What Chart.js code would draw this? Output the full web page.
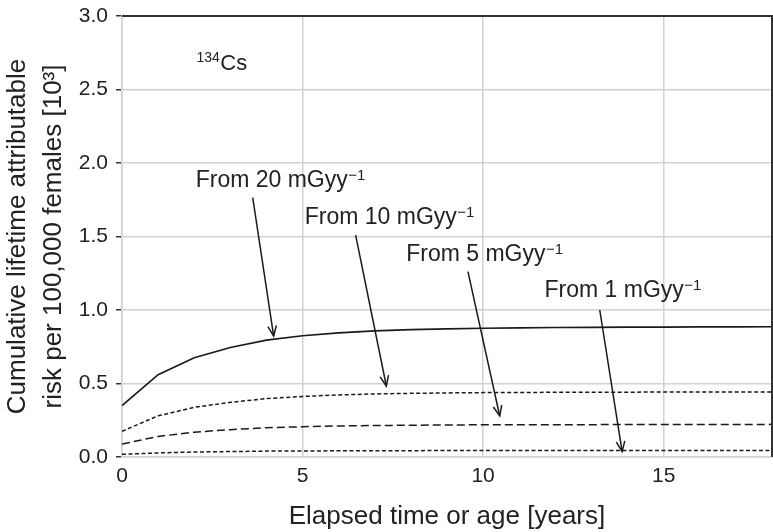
<!DOCTYPE html>
<html>
<head>
<meta charset="utf-8">
<script src="https://cdn.jsdelivr.net/npm/chart.js@4/dist/chart.umd.min.js"></script>
<style>
  html, body { margin: 0; padding: 0; background: #fff; }
  #wrap { width: 773px; height: 532px; }
</style>
</head>
<body>
<div id="wrap"><canvas id="riskChart"></canvas></div>
<script>
// elapsed years and cumulative risk per dose rate
const years = [0, 1, 2, 3, 4, 5, 6, 7, 8, 9, 10, 11, 12, 13, 14, 15, 16, 17, 18];
const risk20 = [0.35, 0.56, 0.675, 0.745, 0.795, 0.825, 0.845, 0.858, 0.866, 0.872, 0.876, 0.879, 0.881, 0.882, 0.883, 0.884, 0.885, 0.885, 0.886];
const risk10 = [0.175, 0.28, 0.338, 0.372, 0.397, 0.412, 0.422, 0.429, 0.433, 0.436, 0.438, 0.439, 0.44, 0.441, 0.441, 0.442, 0.442, 0.443, 0.443];
const risk5 = [0.088, 0.14, 0.169, 0.186, 0.199, 0.206, 0.211, 0.214, 0.216, 0.218, 0.219, 0.22, 0.22, 0.22, 0.221, 0.221, 0.221, 0.221, 0.222];
const risk1 = [0.018, 0.028, 0.034, 0.037, 0.04, 0.041, 0.042, 0.043, 0.043, 0.044, 0.044, 0.044, 0.044, 0.044, 0.044, 0.044, 0.044, 0.044, 0.044];
const seriesNames = ["From 20 mGyy", "From 10 mGyy", "From 5 mGyy", "From 1 mGyy"];

// annotation text anchors and arrows, in data units
const labelAt = [[2.04, 1.835], [5.06, 1.585], [7.87, 1.333], [11.70, 1.086]];
const arrowFrom = [[3.62, 1.764], [6.47, 1.51], [9.58, 1.261], [13.23, 1.0]];
const arrowTo = [[4.20, 0.823], [7.32, 0.483], [10.46, 0.279], [13.85, 0.037]];
const isotopeAt = [2.06, 2.633];

const ink = "#1a1a1a";
const gridColor = "#d2d2d2";
const fontFamily = "'Liberation Sans', Arial, sans-serif";

const toPoints = (vals) => years.map((x, i) => ({ x: x, y: vals[i] }));

function drawSup(ctx, x, y, main, sup, big, small, rise) {
  ctx.font = big + "px " + fontFamily;
  ctx.fillText(main, x, y);
  const w = ctx.measureText(main).width;
  ctx.font = small + "px " + fontFamily;
  ctx.fillText(sup, x + w + 0.5, y - rise);
}

const annotations = {
  id: "annotations",
  afterDatasetsDraw(chart) {
    const { ctx, chartArea: a, scales: { x, y } } = chart;
    ctx.save();

    // dark frame on top and right
    ctx.strokeStyle = "#333";
    ctx.lineWidth = 2;
    ctx.beginPath();
    ctx.moveTo(a.left, a.top);
    ctx.lineTo(a.right, a.top);
    ctx.lineTo(a.right, a.bottom);
    ctx.stroke();

    ctx.fillStyle = "#222";
    ctx.textBaseline = "alphabetic";
    ctx.textAlign = "left";

    // isotope tag: superscript mass number then symbol
    ctx.font = "14px " + fontFamily;
    const ix = x.getPixelForValue(isotopeAt[0]);
    const iy = y.getPixelForValue(isotopeAt[1]);
    ctx.fillText("134", ix, iy - 8);
    const sw = ctx.measureText("134").width;
    ctx.font = "22px " + fontFamily;
    ctx.fillText("Cs", ix + sw + 0.5, iy);

    seriesNames.forEach((name, i) => {
      const lx = x.getPixelForValue(labelAt[i][0]);
      const ly = y.getPixelForValue(labelAt[i][1]);
      drawSup(ctx, lx, ly, name, "\u22121", 23, 15, 7.5);

      const x0 = x.getPixelForValue(arrowFrom[i][0]);
      const y0 = y.getPixelForValue(arrowFrom[i][1]);
      const x1 = x.getPixelForValue(arrowTo[i][0]);
      const y1 = y.getPixelForValue(arrowTo[i][1]);
      ctx.strokeStyle = ink;
      ctx.lineWidth = 1.5;
      ctx.beginPath();
      ctx.moveTo(x0, y0);
      ctx.lineTo(x1, y1);
      ctx.stroke();

      const ang = Math.atan2(y1 - y0, x1 - x0);
      const head = 11;
      const spread = 0.4;
      ctx.beginPath();
      ctx.moveTo(x1 - head * Math.cos(ang - spread), y1 - head * Math.sin(ang - spread));
      ctx.lineTo(x1, y1);
      ctx.lineTo(x1 - head * Math.cos(ang + spread), y1 - head * Math.sin(ang + spread));
      ctx.stroke();
    });

    ctx.restore();
  },
};

new Chart(document.getElementById("riskChart"), {
  type: "line",
  data: {
    datasets: [
      { label: seriesNames[0], data: toPoints(risk20), borderColor: ink, borderWidth: 1.7 },
      { label: seriesNames[1], data: toPoints(risk10), borderColor: ink, borderWidth: 1.5, borderDash: [4, 2.5] },
      { label: seriesNames[2], data: toPoints(risk5), borderColor: ink, borderWidth: 1.5, borderDash: [8, 4] },
      { label: seriesNames[3], data: toPoints(risk1), borderColor: ink, borderWidth: 1.5, borderDash: [4, 2.5] },
    ],
  },
  options: {
    responsive: true,
    maintainAspectRatio: false,
    animation: false,
    layout: { padding: { top: 16, right: 1, left: 0, bottom: 0 } },
    elements: { point: { radius: 0 }, line: { tension: 0, fill: false } },
    plugins: { legend: { display: false }, tooltip: { enabled: false } },
    scales: {
      x: {
        type: "linear",
        min: 0,
        max: 18,
        grid: { color: gridColor, lineWidth: 1.5, drawTicks: false },
        border: { color: gridColor, width: 1.5 },
        ticks: { stepSize: 5, includeBounds: false, color: "#222", padding: 7, font: { family: fontFamily, size: 21 } },
        title: {
          display: true,
          text: "Elapsed time or age [years]",
          color: "#222",
          padding: { top: 0, bottom: 0 },
          font: { family: fontFamily, size: 26 },
        },
        afterFit: (scale) => { scale.height = 75; },
      },
      y: {
        min: 0,
        max: 3,
        grid: { color: gridColor, lineWidth: 1.5, tickColor: "#333", tickLength: 6 },
        border: { color: gridColor, width: 1.5 },
        ticks: {
          stepSize: 0.5,
          color: "#222",
          padding: 8,
          font: { family: fontFamily, size: 21 },
          callback: (v) => v.toFixed(1),
        },
        title: {
          display: true,
          text: ["Cumulative lifetime attributable", "risk per 100,000 females [10\u00b3]"],
          color: "#222",
          padding: { top: 0, bottom: 0 },
          font: { family: fontFamily, size: 26, lineHeight: 1.38 },
        },
        afterFit: (scale) => {
          scale.width = 122;
          scale.paddingTop = 0;
          scale.paddingBottom = 0;
        },
      },
    },
  },
  plugins: [annotations],
});
</script>
</body>
</html>
